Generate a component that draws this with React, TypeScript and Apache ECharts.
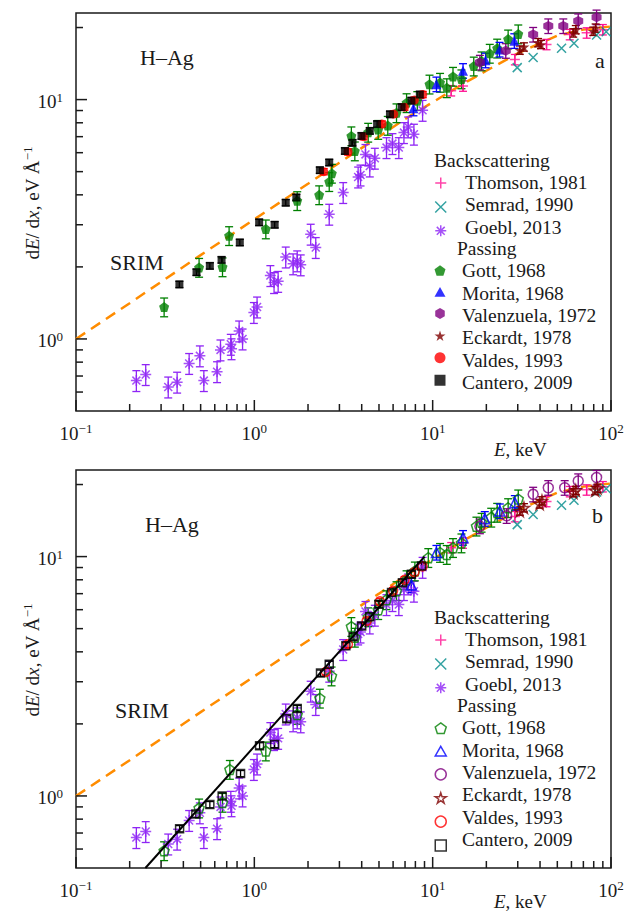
import React, { useEffect, useRef } from 'react';
import * as echarts from 'echarts';

const FONT = 'Liberation Serif';
const INK = '#1a1a1a';

// ---- axes ----
const X_MIN = 0.1;
const X_MAX = 100;
const Y_MIN = 0.5;
const Y_MAX = 23;
const X_MAJOR = [0.1, 1, 10, 100];
const X_MAJOR_EXP = ['−1', '0', '1', '2'];
const X_MINOR = [0.2, 0.3, 0.4, 0.5, 0.6, 0.7, 0.8, 0.9, 2, 3, 4, 5, 6, 7, 8, 9, 20, 30, 40, 50, 60, 70, 80, 90];
const Y_MAJOR = [1, 10];
const Y_MAJOR_EXP = ['0', '1'];
const Y_MINOR = [0.6, 0.7, 0.8, 0.9, 2, 3, 4, 5, 6, 7, 8, 9, 20];

// ---- SRIM curve ----
const SRIM_E = [0.1, 0.2, 0.5, 1, 2, 3, 5, 7, 10, 15, 20, 30, 50, 70, 100];
const SRIM_V = [1.0, 1.41, 2.24, 3.16, 4.45, 5.45, 7.0, 8.3, 9.75, 11.7, 13.2, 15.6, 18.5, 19.6, 20.2];

// ---- fit line (panel b) ----
const FIT_E = [0.245, 9.0];
const FIT_V = [0.5, 10.0];

// ---- backscattering data (both panels) ----
const THOMSON = [[12.7, 10.9], [14.8, 11.4], [28.9, 14.7], [43.5, 17.0], [58.7, 18.7], [73, 19.0], [90, 19.6]];
const SEMRAD = [[29.8, 13.6], [36.6, 15.0], [52.8, 16.4], [62, 17.2], [83, 18.6], [94, 19.2]];
const GOEBL = [[0.218, 0.67], [0.246, 0.71], [0.329, 0.63], [0.369, 0.66], [0.431, 0.79], [0.495, 0.85], [0.521, 0.67],
  [0.618, 0.73], [0.646, 0.9], [0.738, 0.95], [0.745, 0.91], [0.822, 1.08], [0.859, 1.0], [0.994, 1.29], [1.036, 1.36],
  [1.23, 1.84], [1.29, 1.72], [1.36, 1.74], [1.5, 2.2], [1.65, 2.06], [1.74, 2.12], [1.82, 2.04], [2.07, 2.74], [2.21, 2.41],
  [2.63, 3.32], [3.15, 4.09], [3.82, 4.75], [3.94, 4.84], [4.2, 5.9], [4.44, 5.28], [4.74, 5.69], [5.51, 6.3], [5.95, 6.55],
  [6.46, 6.3], [6.9, 7.28], [7.29, 7.69], [7.85, 7.17], [8.78, 9.02]];

// ---- passing data, panel a ----
const GOTT_A = [[0.312, 1.36], [0.49, 1.99], [0.663, 2.0], [0.722, 2.7], [1.16, 2.88], [1.74, 3.78], [2.31, 4.0], [2.63, 4.54],
  [2.72, 4.92], [3.5, 7.05], [3.66, 6.1], [4.35, 7.3], [4.95, 7.5], [5.6, 7.8], [6.27, 8.8], [7.14, 9.7], [8.2, 9.9], [9.6, 11.6],
  [11, 11.8], [12, 11.2], [13, 12.5], [14.5, 12.2], [17, 13.8], [18.8, 14.5], [20.9, 15.6], [23, 16.4], [26.5, 17.9], [30.2, 18.8]];
const MORITA_A = [[7.8, 9.2], [10.5, 11.6], [14.8, 13.2], [19.8, 14.6], [23.7, 16.2], [28.7, 17.6]];
const VALENZ_A = [[18.4, 14.3], [25.7, 16.0], [36.6, 18.7], [44.5, 20.3], [54, 20.3], [65.5, 21.3], [83, 22.1]];
const ECKARDT_A = [[30.8, 16.1], [32.5, 16.6], [39, 17.3], [40.5, 17.0], [61.4, 19.0], [63.5, 19.6], [79.5, 19.3], [82, 19.9]];
const VALDES_A = [[2.45, 5.0], [3.35, 6.05], [4.1, 7.0], [5.2, 7.9], [6.05, 8.7], [6.95, 9.3], [7.9, 9.95], [8.8, 10.5]];
const CANTERO_A = [[0.38, 1.69], [0.474, 1.9], [0.563, 2.02], [0.655, 2.14], [0.829, 2.53], [1.064, 3.07], [1.3, 3.0], [1.5, 3.71],
  [1.72, 3.9], [2.33, 5.07], [2.63, 5.46], [3.22, 6.1], [3.55, 6.6], [3.99, 7.05], [4.44, 7.4], [4.88, 7.9], [5.76, 8.68],
  [6.7, 9.3], [7.6, 9.9], [8.47, 10.5]];

// ---- passing data, panel b ----
const GOTT_B = [[0.312, 0.59], [0.49, 0.89], [0.663, 0.94], [0.729, 1.29], [1.16, 1.54], [1.74, 2.19], [2.33, 2.56], [2.71, 3.17],
  [3.5, 5.1], [3.66, 4.6], [4.35, 5.6], [4.95, 6.0], [5.5, 6.6], [6.27, 7.2], [7.14, 8.0], [7.95, 8.7], [9.45, 9.9], [11, 10.4],
  [12, 10.2], [13, 10.9], [14.5, 11.4], [17.6, 13.4], [18.8, 13.9], [21.3, 14.6], [23, 15.3], [26.5, 16.0], [30.2, 17.4]];
const MORITA_B = [[7.6, 7.6], [10.5, 10.4], [14.8, 12.0], [19.6, 14.4], [23.8, 15.5], [28.9, 16.8]];
const VALENZ_B = [[18.4, 13.4], [26, 14.8], [36.6, 18.2], [44.5, 19.4], [55, 19.4], [65.5, 20.7], [83, 21.4]];
const ECKARDT_B = [[30.8, 15.5], [32.5, 16.0], [39.8, 16.6], [41, 17.1], [61.5, 18.5], [63.5, 18.9], [81.5, 18.9], [84, 19.3]];
const VALDES_B = [[2.52, 3.3], [3.35, 4.3], [4.26, 5.38], [5.06, 6.5], [6.0, 7.2], [6.97, 8.0], [7.9, 8.6], [8.77, 9.1]];
const CANTERO_B = [[0.381, 0.73], [0.47, 0.84], [0.563, 0.92], [0.66, 1.0], [0.837, 1.24], [1.07, 1.62], [1.3, 1.64], [1.52, 2.1],
  [1.74, 2.32], [2.35, 3.26], [2.63, 3.55], [3.26, 4.24], [3.58, 4.62], [4.0, 5.13], [4.44, 5.6], [5.0, 6.32], [5.88, 7.08],
  [6.77, 7.78], [7.6, 8.44], [8.66, 9.14]];

const SYM = {
  plus: 'path://M0,-1L0,1M-1,0L1,0',
  cross: 'path://M-1,-1L1,1M-1,1L1,-1',
  aster: 'path://M0,-1L0,1M-1,0L1,0M-0.72,-0.72L0.72,0.72M-0.72,0.72L0.72,-0.72',
  pent: 'path://M0,-1L0.951,-0.309L0.588,0.809L-0.588,0.809L-0.951,-0.309Z',
  tri: 'path://M0,-1L1,0.75L-1,0.75Z',
  hex: 'path://M0,-1L0.866,-0.5L0.866,0.5L0,1L-0.866,0.5L-0.866,-0.5Z',
  star: 'path://M0,-1L0.2234,-0.3074L0.951,-0.309L0.3614,0.1174L0.588,0.809L0,0.38L-0.588,0.809L-0.3614,0.1174L-0.951,-0.309L-0.2234,-0.3074Z',
  circle: 'circle',
  square: 'path://M-1,-1L1,-1L1,1L-1,1Z',
};

type Spec = { key: string; name: string; color: string; symbol: string; openSymbol: string; size: number; stroke: boolean; err: number; group: 'back' | 'pass' };
const SPECS: Spec[] = [
  { key: 'thomson', name: 'Thomson, 1981', color: '#ff1493', symbol: SYM.plus, openSymbol: SYM.plus, size: 10, stroke: true, err: 0.05, group: 'back' },
  { key: 'semrad', name: 'Semrad, 1990', color: '#008b8b', symbol: SYM.cross, openSymbol: SYM.cross, size: 9, stroke: true, err: 0, group: 'back' },
  { key: 'goebl', name: 'Goebl, 2013', color: '#8f25f5', symbol: SYM.aster, openSymbol: SYM.aster, size: 11, stroke: true, err: 0.1, group: 'back' },
  { key: 'gott', name: 'Gott, 1968', color: '#008000', symbol: SYM.pent, openSymbol: SYM.pent, size: 10, stroke: false, err: 0.09, group: 'pass' },
  { key: 'morita', name: 'Morita, 1968', color: '#0000ff', symbol: SYM.tri, openSymbol: SYM.tri, size: 10, stroke: false, err: 0.07, group: 'pass' },
  { key: 'valenz', name: 'Valenzuela, 1972', color: '#800080', symbol: SYM.hex, openSymbol: SYM.circle, size: 10, stroke: false, err: 0.07, group: 'pass' },
  { key: 'eckardt', name: 'Eckardt, 1978', color: '#800000', symbol: SYM.star, openSymbol: SYM.star, size: 11, stroke: false, err: 0.04, group: 'pass' },
  { key: 'valdes', name: 'Valdes, 1993', color: '#ff0000', symbol: SYM.circle, openSymbol: SYM.circle, size: 9, stroke: false, err: 0.03, group: 'pass' },
  { key: 'cantero', name: 'Cantero, 2009', color: '#000000', symbol: SYM.square, openSymbol: SYM.square, size: 8, stroke: false, err: 0.03, group: 'pass' },
];

const DATA_A: Record<string, number[][]> = {
  thomson: THOMSON, semrad: SEMRAD, goebl: GOEBL, gott: GOTT_A, morita: MORITA_A, valenz: VALENZ_A,
  eckardt: ECKARDT_A, valdes: VALDES_A, cantero: CANTERO_A,
};
const DATA_B: Record<string, number[][]> = {
  thomson: THOMSON, semrad: SEMRAD, goebl: GOEBL, gott: GOTT_B, morita: MORITA_B, valenz: VALENZ_B,
  eckardt: ECKARDT_B, valdes: VALDES_B, cantero: CANTERO_B,
};

const PANEL_TOP = [13, 470];
const PANEL_H = 398;
const PLOT_LEFT = 76;
const PLOT_W = 535;
const LEG_ROW = 22.4;

function styleFor(s: Spec, open: boolean) {
  if (s.stroke || open) return { color: 'rgba(0,0,0,0)', borderColor: s.color, borderWidth: 1.5 };
  return { color: s.color, borderWidth: 0 };
}

function errRender(color: string) {
  return (_p: any, api: any) => {
    const x = api.value(0);
    const a = api.coord([x, api.value(2)]);
    const b = api.coord([x, api.value(3)]);
    const w = 4;
    const st = { stroke: color, lineWidth: 1.3 };
    return {
      type: 'group',
      children: [
        { type: 'line', shape: { x1: a[0], y1: a[1], x2: b[0], y2: b[1] }, style: st },
        { type: 'line', shape: { x1: a[0] - w, y1: a[1], x2: a[0] + w, y2: a[1] }, style: st },
        { type: 'line', shape: { x1: b[0] - w, y1: b[1], x2: b[0] + w, y2: b[1] }, style: st },
      ],
    };
  };
}

const RICH_TICK = {
  b: { fontFamily: FONT, fontSize: 19, lineHeight: 22, fill: INK },
  s: { fontFamily: FONT, fontSize: 13, lineHeight: 15, verticalAlign: 'top', fill: INK },
};

function axisSeries(gi: number) {
  const ticks = [
    ...X_MAJOR.map((v) => [v, Y_MIN, 11, 0]),
    ...X_MINOR.map((v) => [v, Y_MIN, 7, 0]),
    ...Y_MAJOR.map((v) => [X_MIN, v, 11, 1]),
    ...Y_MINOR.map((v) => [X_MIN, v, 7, 1]),
  ];
  const labels = [
    ...X_MAJOR.map((v, i) => [v, Y_MIN, i, 0]),
    ...Y_MAJOR.map((v, i) => [X_MIN, v, i, 1]),
  ];
  return [
    {
      type: 'custom', xAxisIndex: gi, yAxisIndex: gi, data: ticks, silent: true, z: 6,
      renderItem: (_p: any, api: any) => {
        const pt = api.coord([api.value(0), api.value(1)]);
        const len = api.value(2);
        const isY = api.value(3) === 1;
        return {
          type: 'line',
          shape: isY ? { x1: pt[0], y1: pt[1], x2: pt[0] + len, y2: pt[1] } : { x1: pt[0], y1: pt[1], x2: pt[0], y2: pt[1] - len },
          style: { stroke: INK, lineWidth: 1.5 },
        };
      },
    },
    {
      type: 'custom', xAxisIndex: gi, yAxisIndex: gi, data: labels, silent: true, z: 6,
      renderItem: (_p: any, api: any) => {
        const pt = api.coord([api.value(0), api.value(1)]);
        const idx = api.value(2);
        const isY = api.value(3) === 1;
        const exp = isY ? Y_MAJOR_EXP[idx] : X_MAJOR_EXP[idx];
        return {
          type: 'text',
          x: isY ? pt[0] - 13 : pt[0],
          y: isY ? pt[1] + 2 : pt[1] + 22,
          style: {
            text: `{b|10}{s|${exp}}`,
            rich: RICH_TICK,
            align: isY ? 'right' : 'center',
            verticalAlign: 'middle',
          },
        };
      },
    },
  ];
}

function panelSeries(gi: number, open: boolean, data: Record<string, number[][]>) {
  const out: any[] = [];
  out.push({
    type: 'line', xAxisIndex: gi, yAxisIndex: gi, silent: true, z: 1,
    data: SRIM_E.map((e, i) => [e, SRIM_V[i]]),
    showSymbol: false, symbol: 'none',
    lineStyle: { color: '#ff8c00', width: 2.5, type: [11, 7] },
  });
  if (gi === 1) {
    out.push({
      type: 'line', xAxisIndex: gi, yAxisIndex: gi, silent: true, z: 3,
      data: FIT_E.map((e, i) => [e, FIT_V[i]]),
      showSymbol: false, symbol: 'none',
      lineStyle: { color: '#000', width: 2 },
    });
  }
  for (const s of SPECS) {
    const d = data[s.key];
    if (s.err > 0) {
      out.push({
        type: 'custom', xAxisIndex: gi, yAxisIndex: gi, silent: true, z: 2,
        data: d.map(([e, v]) => [e, v, v * (1 - s.err), v * (1 + s.err)]),
        renderItem: errRender(s.color),
      });
    }
    out.push({
      type: 'scatter', name: s.name, xAxisIndex: gi, yAxisIndex: gi, silent: true, z: 2,
      data: d,
      symbol: open ? s.openSymbol : s.symbol,
      symbolSize: s.size,
      itemStyle: styleFor(s, open),
    });
  }
  return out;
}

// legend: icons only (labels placed as graphic texts)
function legendsFor(gi: number, open: boolean) {
  const off = gi === 0 ? 0 : 457;
  const mk = (group: 'back' | 'pass', firstCenter: number) => ({
    orient: 'vertical', left: 434.5, top: firstCenter - 5.5, itemWidth: 11, itemHeight: 11,
    itemGap: LEG_ROW - 11, padding: 0, selectedMode: false,
    formatter: () => '',
    textStyle: { fontSize: 1, lineHeight: 1 },
    data: SPECS.filter((s) => s.group === group).map((s) => ({
      name: s.name,
      icon: open ? s.openSymbol : s.symbol,
      itemStyle: styleFor(s, open),
    })),
  });
  return [mk('back', 182.3 + off), mk('pass', 270.7 + off)];
}

function textEl(x: number, y: number, text: string, size: number, extra: any = {}) {
  return {
    type: 'text', x, y, silent: true,
    style: { text, fontFamily: FONT, fontSize: size, fill: INK, align: 'left', verticalAlign: 'middle', ...extra },
  };
}

const RICH_TITLE = {
  n: { fontFamily: FONT, fontSize: 19, lineHeight: 22, fill: INK },
  i: { fontFamily: FONT, fontSize: 19, fontStyle: 'italic', lineHeight: 22, fill: INK },
  s: { fontFamily: FONT, fontSize: 13, lineHeight: 14, verticalAlign: 'top', fill: INK },
};

function graphicsFor(gi: number) {
  const off = gi === 0 ? 0 : 457;
  const legendTexts: any[] = [];
  SPECS.filter((s) => s.group === 'back').forEach((s, i) => {
    legendTexts.push(textEl(465, 182.3 + off + i * LEG_ROW, s.name, 19.5));
  });
  SPECS.filter((s) => s.group === 'pass').forEach((s, i) => {
    legendTexts.push(textEl(462, 270.7 + off + i * LEG_ROW, s.name, 19.5));
  });
  return [
    textEl(gi === 0 ? 140 : 145, gi === 0 ? 57.5 : 524.5, 'H–Ag', 22),
    textEl(gi === 0 ? 110 : 115, gi === 0 ? 262 : 710, 'SRIM', 22),
    textEl(gi === 0 ? 595 : 592, gi === 0 ? 60 : 515, gi === 0 ? 'a' : 'b', 22),
    textEl(434, 160 + off, 'Backscattering', 19.5),
    textEl(457, 248 + off, 'Passing', 19.5),
    ...legendTexts,
    {
      type: 'text', x: 32, y: 203 + off, rotation: Math.PI / 2, silent: true,
      style: {
        text: '{n|d}{i|E}{n|/ d}{i|x}{n|, eV Å}{s|−1}', rich: RICH_TITLE,
        align: 'center', verticalAlign: 'middle',
      },
    },
    {
      type: 'text', x: 494, y: gi === 0 ? 449 : 901, silent: true,
      style: { text: '{i|E}{n|, keV}', rich: RICH_TITLE, align: 'left', verticalAlign: 'middle' },
    },
  ];
}

function buildOption() {
  const grids = PANEL_TOP.map((top) => ({
    left: PLOT_LEFT, top, width: PLOT_W, height: PANEL_H, show: true,
    borderColor: INK, borderWidth: 1.5, backgroundColor: 'transparent', containLabel: false,
  }));
  const axisCommon = {
    type: 'log', logBase: 10,
    axisLine: { show: false }, axisTick: { show: false }, axisLabel: { show: false }, splitLine: { show: false },
  };
  return {
    animation: false,
    backgroundColor: '#ffffff',
    grid: grids,
    xAxis: [0, 1].map((gi) => ({ ...axisCommon, gridIndex: gi, min: X_MIN, max: X_MAX })),
    yAxis: [0, 1].map((gi) => ({ ...axisCommon, gridIndex: gi, min: Y_MIN, max: Y_MAX })),
    legend: [...legendsFor(0, false), ...legendsFor(1, true)],
    graphic: [...graphicsFor(0), ...graphicsFor(1)],
    series: [
      ...panelSeries(0, false, DATA_A),
      ...panelSeries(1, true, DATA_B),
      ...axisSeries(0),
      ...axisSeries(1),
    ],
  };
}

export default function App() {
  const ref = useRef<HTMLDivElement>(null);
  useEffect(() => {
    if (!ref.current) return;
    const chart = echarts.init(ref.current, null, { renderer: 'svg' });
    chart.setOption(buildOption() as any);
    return () => chart.dispose();
  }, []);
  return (
    <div
      ref={ref}
      style={{ position: 'fixed', left: 0, top: 0, width: 625, height: 912, background: '#fff' }}
    />
  );
}
